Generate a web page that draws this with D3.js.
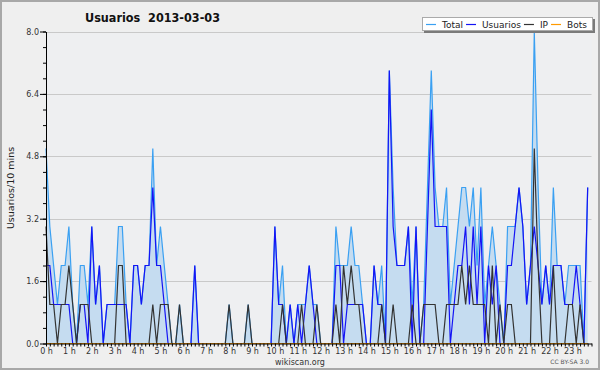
<!DOCTYPE html>
<html>
<head>
<meta charset="utf-8">
<script src="https://cdn.jsdelivr.net/npm/d3@7/dist/d3.min.js"></script>
<style>
  body { margin: 0; background: #efefef; }
  svg text { font-family: "DejaVu Sans", sans-serif; }
</style>
</head>
<body>
<svg id="chart" width="600" height="370"></svg>
<script>
// one value every 10 minutes, from 0h00 to 23h40
const usuarios = [2,2,1,1,1,1,1,0,0,1,1,0,3,1,2,0,1,1,1,1,1,1,0,2,2,
  1,2,2,4,2,2,1,0,0,0,0,0,0,0,2,0,0,0,0,0,0,0,0,0,0,
  0,0,0,0,0,0,0,0,0,0,3,1,1,0,1,0,1,0,1,2,1,0,0,0,0,
  0,2,2,0,1,1,1,1,1,0,0,2,1,1,0,7,3,2,2,2,3,0,3,0,0,
  3,6,3,3,3,3,0,1,2,2,3,1,3,1,3,0,2,1,2,0,0,2,2,3,4,
  3,1,2,3,2,1,2,1,2,2,2,1,1,1,2,1,0,4];
const ip = [3,1,1,0,1,1,2,1,0,1,1,1,0,0,0,0,0,0,0,2,2,0,0,0,0,
  0,0,0,1,0,1,1,1,0,0,1,0,0,0,0,0,0,0,0,0,0,0,0,1,0,
  0,0,0,1,0,0,0,0,0,0,0,0,1,0,0,0,0,1,0,0,0,1,0,0,0,
  0,1,0,2,1,2,1,1,0,0,0,0,0,1,0,0,1,0,0,0,0,1,0,0,1,
  1,1,1,0,0,1,1,1,1,2,1,2,1,1,1,1,0,2,0,1,0,1,1,0,0,
  0,0,0,5,2,0,0,0,2,0,0,0,1,1,0,1,0,0];
const total = [5,3,2,1,2,2,3,1,0,2,2,1,3,1,2,0,1,1,1,3,3,1,0,2,2,
  1,2,2,5,2,3,2,1,0,0,1,0,0,0,2,0,0,0,0,0,0,0,0,1,0,
  0,0,0,1,0,0,0,0,0,0,3,1,2,0,1,0,1,1,1,2,1,1,0,0,0,
  0,3,2,2,2,3,2,2,1,0,0,2,1,2,0,7,4,2,2,2,3,1,3,0,1,
  4,7,4,3,3,4,1,2,3,4,4,3,4,2,4,1,2,3,2,1,0,3,3,3,4,
  3,1,2,8,4,1,2,1,4,2,2,1,2,2,2,2,0,4];
const bots = [0,0,0,0,0,0,0,0,0,0,0,0,0,0,0,0,0,0,0,0,0,0,0,0,0,
  0,0,0,0,0,0,0,0,0,0,0,0,0,0,0,0,0,0,0,0,0,0,0,0,0,
  0,0,0,0,0,0,0,0,0,0,0,0,0,0,0,0,0,0,0,0,0,0,0,0,0,
  0,0,0,0,0,0,0,0,0,0,0,0,0,0,0,0,0,0,0,0,0,0,0,0,0,
  0,0,0,0,0,0,0,0,0,0,0,0,0,0,0,0,0,0,0,0,0,0,0,0,0,
  0,0,0,0,0,0,0,0,0,0,0,0,0,0,0,0,0,0];
const hours = ["0 h","1 h","2 h","3 h","4 h","5 h","6 h","7 h","8 h","9 h","10 h","11 h",
  "12 h","13 h","14 h","15 h","16 h","17 h","18 h","19 h","20 h","21 h","22 h","23 h"];
const yTicks = [0, 1.6, 3.2, 4.8, 6.4, 8.0];
const legendNames = ["Total", "Usuarios", "IP", "Bots"];
const legendColors = ["#3aa0f2", "#1414f5", "#333333", "#ff9a00"];

const plotLeft = 46, plotRight = 591.5, plotTop = 31.5, plotBottom = 343.5;
const svg = d3.select("#chart");

svg.append("rect").attr("x", 1).attr("y", 1).attr("width", 598).attr("height", 368)
  .attr("fill", "#efefef").attr("stroke", "#a8a8a8").attr("stroke-width", 2);

const x = d3.scaleLinear().domain([0, 143]).range([plotLeft, plotRight]);
const y = d3.scaleLinear().domain([0, 8]).range([plotBottom, plotTop]);

svg.append("rect").attr("x", plotLeft).attr("y", plotTop).attr("width", plotRight - plotLeft)
  .attr("height", plotBottom - plotTop).attr("fill", "#eeeff1");

// grid
svg.append("g").selectAll("line").data(yTicks.filter(d => d > 0)).enter()
  .append("line")
  .attr("x1", plotLeft).attr("x2", plotRight)
  .attr("y1", d => Math.round(y(d)) + 0.5).attr("y2", d => Math.round(y(d)) + 0.5)
  .attr("stroke", "#c9c9c9");

const area = d3.area().x((d, i) => x(i)).y0(y(0)).y1(d => y(d));
svg.append("path").datum(total).attr("d", area).attr("fill", "#c5dcf0");

const line = d3.line().x((d, i) => x(i)).y(d => y(d));
[[total, 0], [usuarios, 1], [ip, 2], [bots, 3]].forEach(([s, k]) => {
  svg.append("path").datum(s).attr("d", line)
    .attr("fill", "none").attr("stroke", legendColors[k]).attr("stroke-width", 1.2);
});

// y axis
const yAxis = svg.append("g").attr("transform", `translate(${plotLeft},0)`)
  .call(d3.axisLeft(y).tickValues(yTicks).tickFormat(d3.format(".1f")).tickSize(6).tickSizeOuter(0).tickPadding(1));
svg.append("g").attr("transform", `translate(${plotLeft},0)`)
  .call(d3.axisLeft(y).tickValues(d3.range(0, 8.01, 0.4)).tickFormat("").tickSize(3).tickSizeOuter(0))
  .select(".domain").remove();
yAxis.selectAll("text").attr("font-size", 8).attr("fill", "#333").style("font-family", "DejaVu Sans");

// x axis
const xAxis = svg.append("g").attr("transform", `translate(0,${plotBottom})`)
  .call(d3.axisBottom(x).tickValues(d3.range(0, 144)).tickSize(3).tickSizeOuter(0).tickPadding(1.5)
    .tickFormat(d => d % 6 === 0 ? hours[d / 6] : ""));
xAxis.selectAll("text").attr("font-size", 8).attr("fill", "#333").style("font-family", "DejaVu Sans");
svg.selectAll(".domain, .tick line").attr("stroke", "#000");

// titles
svg.append("text").attr("x", 85).attr("y", 21.5)
  .attr("font-size", 12.5).attr("font-weight", "bold")
  .style("font-family", "'DejaVu Sans Condensed', 'DejaVu Sans'").style("font-stretch", "condensed")
  .attr("fill", "#111").attr("xml:space", "preserve").text("Usuarios  2013-03-03");

svg.append("text").attr("transform", "translate(13.5,188) rotate(-90)")
  .attr("text-anchor", "middle").attr("font-size", 9.5).attr("fill", "#222")
  .text("Usuarios/10 mins");

svg.append("text").attr("x", 300).attr("y", 364.5).attr("text-anchor", "middle")
  .attr("font-size", 8).attr("fill", "#333").text("wikiscan.org");
svg.append("text").attr("x", 589).attr("y", 364).attr("text-anchor", "end")
  .attr("font-size", 6).attr("fill", "#555").text("CC BY-SA 3.0");

// legend
const lg = svg.append("g");
lg.append("rect").attr("x", 424).attr("y", 19).attr("width", 171).attr("height", 14).attr("fill", "#7a7a7a");
lg.append("rect").attr("x", 422.5).attr("y", 17.5).attr("width", 170).attr("height", 13)
  .attr("fill", "#fff").attr("stroke", "#aaa");
let cx = 426;
legendNames.forEach((name, k) => {
  lg.append("line").attr("x1", cx).attr("x2", cx + 10).attr("y1", 24.5).attr("y2", 24.5)
    .attr("stroke", legendColors[k]).attr("stroke-width", 1.2);
  const t = lg.append("text").attr("x", cx + 16).attr("y", 27.5)
    .attr("font-size", 9).attr("fill", "#222").text(name);
  cx += 16 + t.node().getComputedTextLength() + 3;
});
</script>
</body>
</html>
